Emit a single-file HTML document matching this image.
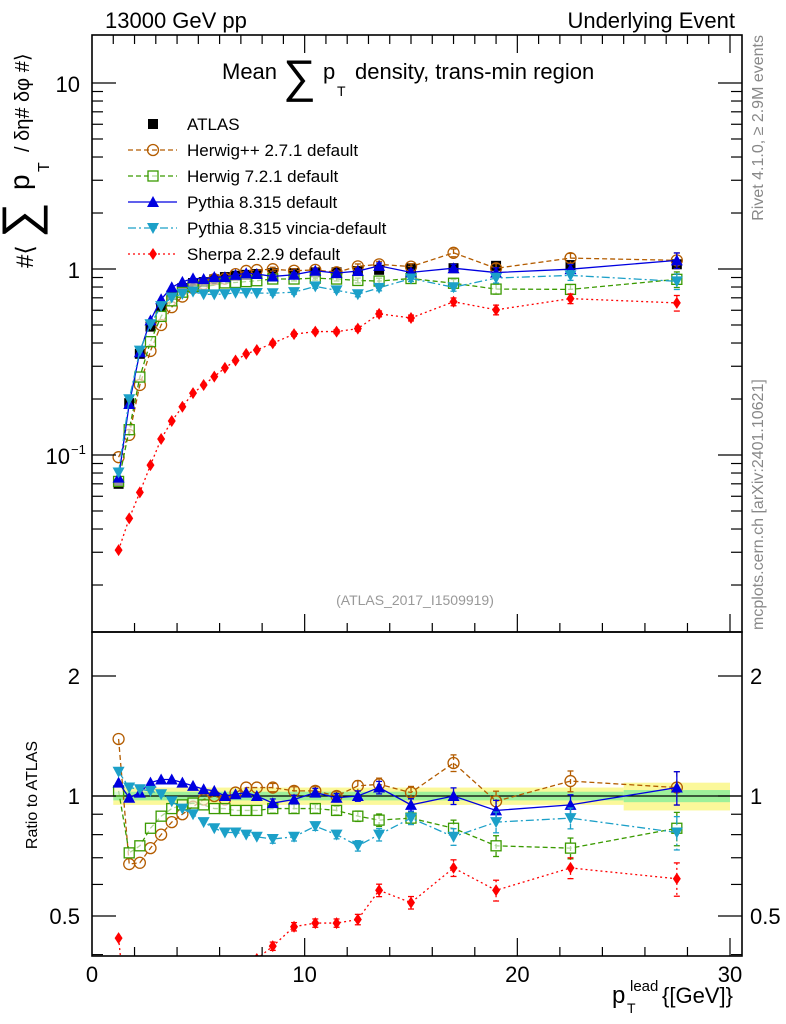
<!DOCTYPE html>
<html><head><meta charset="utf-8"><style>
html,body{margin:0;padding:0;background:#fff;width:786px;height:1024px;overflow:hidden;}
svg{display:block;font-family:"Liberation Sans",sans-serif;overflow:hidden;}
</style></head><body>
<svg id="c" width="786" height="1024" viewBox="0 0 786 1024"></svg>
<script>
const xs = [1.25,1.75,2.25,2.75,3.25,3.75,4.25,4.75,5.25,5.75,6.25,6.75,7.25,7.75,8.5,9.5,10.5,11.5,12.5,13.5,15,17,19,22.5,27.5];
const atlas = [0.070,0.19,0.35,0.49,0.625,0.725,0.79,0.84,0.85,0.88,0.905,0.92,0.93,0.94,0.95,0.95,0.96,0.96,0.975,0.99,1.01,1.01,1.04,1.05,1.06];
const rHerwigpp = [1.39,0.675,0.68,0.74,0.80,0.86,0.90,0.94,0.98,1.0,0.98,1.02,1.05,1.05,1.05,1.03,1.03,1.0,1.06,1.07,1.02,1.21,0.97,1.09,1.05];
const rHerwig7 = [1.03,0.72,0.75,0.83,0.89,0.93,0.95,0.96,0.95,0.93,0.93,0.92,0.92,0.92,0.93,0.93,0.93,0.92,0.89,0.87,0.88,0.83,0.75,0.74,0.83];
const rPythia = [1.08,0.99,1.02,1.08,1.10,1.10,1.08,1.06,1.04,1.03,1.0,1.01,1.02,1.0,0.96,0.98,1.02,0.99,1.0,1.05,0.95,1.0,0.92,0.95,1.05];
const rVincia = [1.15,1.05,1.04,1.03,1.01,0.97,0.93,0.90,0.86,0.83,0.81,0.81,0.80,0.79,0.78,0.79,0.84,0.80,0.75,0.80,0.88,0.79,0.86,0.88,0.81];
const rSherpa = [0.44,0.24,0.18,0.18,0.195,0.21,0.23,0.256,0.28,0.30,0.325,0.35,0.376,0.39,0.42,0.47,0.48,0.48,0.49,0.58,0.54,0.66,0.58,0.66,0.62];
const relErr = [0.01,0.01,0.01,0.01,0.01,0.01,0.01,0.01,0.01,0.01,0.01,0.01,0.01,0.01,0.02,0.02,0.02,0.02,0.025,0.03,0.03,0.04,0.05,0.05,0.08];
const bandEdges = [1,25,30];
const bandYellow = [0.05,0.08];
const bandGreen = [0.025,0.035];

const NS="http://www.w3.org/2000/svg";
const svg=document.getElementById('c');
const L=92, R=742, T1=35, B1=632, B2=956;
const X = v => L + v*(730-L)/30;
const Y1 = v => 269 - 186*Math.log10(v);
const Y2 = v => 796 - 120*Math.log2(v);
function el(tag, attrs, parent){const e=document.createElementNS(NS,tag);for(const k in attrs)e.setAttribute(k,attrs[k]);(parent||svg).appendChild(e);return e;}
function txt(s,x,y,size,attrs,parent){const t=el('text',Object.assign({x:x,y:y,'font-size':size,fill:'#000'},attrs||{}),parent);t.textContent=s;return t;}

const defs=el('defs',{});
const c1=el('clipPath',{id:'cp1'},defs);el('rect',{x:L,y:T1,width:R-L,height:B1-T1},c1);
const c2=el('clipPath',{id:'cp2'},defs);el('rect',{x:L,y:B1,width:R-L,height:B2-B1},c2);

const gBand=el('g',{'clip-path':'url(#cp2)'});


for(let i=0;i<bandYellow.length;i++){
  el('rect',{x:X(bandEdges[i]),y:Y2(1+bandYellow[i]),width:X(bandEdges[i+1])-X(bandEdges[i]),height:Y2(1-bandYellow[i])-Y2(1+bandYellow[i]),fill:'#fbf89a'},gBand);
  el('rect',{x:X(bandEdges[i]),y:Y2(1+bandGreen[i]),width:X(bandEdges[i+1])-X(bandEdges[i]),height:Y2(1-bandGreen[i])-Y2(1+bandGreen[i]),fill:'#9df09a'},gBand);
}
el('line',{x1:L,x2:R,y1:Y2(1),y2:Y2(1),stroke:'#000','stroke-width':1.3},gBand);

function marker(type,x,y,color,g){
  const s=5;
  if(type==='sq') return el('rect',{x:x-s,y:y-s,width:2*s,height:2*s,fill:'#000'},g);
  if(type==='osq') return el('rect',{x:x-s,y:y-s,width:2*s,height:2*s,fill:'#fff','fill-opacity':0.6,stroke:color,'stroke-width':1.3},g);
  if(type==='oc') return el('circle',{cx:x,cy:y,r:5.5,fill:'none',stroke:color,'stroke-width':1.3},g);
  if(type==='tu') return el('polygon',{points:`${x},${y-6} ${x+6},${y+5} ${x-6},${y+5}`,fill:color},g);
  if(type==='td') return el('polygon',{points:`${x},${y+6} ${x+6},${y-5} ${x-6},${y-5}`,fill:color},g);
  if(type==='di') return el('polygon',{points:`${x},${y-6} ${x+4},${y} ${x},${y+6} ${x-4},${y}`,fill:color},g);
}
const series=[
 {name:'herwigpp',r:rHerwigpp,color:'#b35c00',dash:'5,3',m:'oc',label:'Herwig++ 2.7.1 default'},
 {name:'herwig7',r:rHerwig7,color:'#3a9a00',dash:'5,3',m:'osq',label:'Herwig 7.2.1 default'},
 {name:'pythia',r:rPythia,color:'#0000e0',dash:'',m:'tu',label:'Pythia 8.315 default'},
 {name:'vincia',r:rVincia,color:'#1ca0c8',dash:'8,3,2,3',m:'td',label:'Pythia 8.315 vincia-default'},
 {name:'sherpa',r:rSherpa,color:'#ff0000',dash:'2,3',m:'di',label:'Sherpa 2.2.9 default'}
];
// clip segments to vertical range [top,bot]
function clippedSegments(pts,top,bot){
  const segs=[];let cur=[];
  for(let i=0;i<pts.length-1;i++){
    let [x1,y1]=pts[i],[x2,y2]=pts[i+1];
    if((y1>bot&&y2>bot)||(y1<top&&y2<top)){if(cur.length){segs.push(cur);cur=[];}continue;}
    const cl=(xa,ya,xb,yb)=>{let lim=ya>bot?bot:(ya<top?top:null);if(lim===null)return [xa,ya];return [xa+(xb-xa)*(lim-ya)/(yb-ya),lim];};
    const p1=cl(x1,y1,x2,y2),p2=cl(x2,y2,x1,y1);
    if(!cur.length)cur.push(p1);
    cur.push(p2);
    if(p2[1]!==y2){segs.push(cur);cur=[];}
  }
  if(cur.length)segs.push(cur);
  return segs;
}
function drawSeries(s,main){
  const g=el('g',{'clip-path':main?'url(#cp1)':'url(#cp2)'});
  
  
  const vals=xs.map((x,i)=>main?atlas[i]*s.r[i]:s.r[i]);
  const fy=main?Y1:Y2;
  const top=main?T1:B1, bot=main?B1:B2;
  const pts=xs.map((x,i)=>[X(x),fy(vals[i])]);
  clippedSegments(pts,top,bot).forEach(seg=>{
    el('polyline',{points:seg.map(p=>p[0]+','+p[1]).join(' '),fill:'none',stroke:s.color,'stroke-width':1.3,'stroke-dasharray':s.dash},g);
  });
  xs.forEach((x,i)=>{
    const e=relErr[i]*1.2, v=vals[i];
    if(fy(v)>bot+8||fy(v)<top-8)return;
    if(e>0.015){
      el('line',{x1:X(x),x2:X(x),y1:fy(v*(1+e)),y2:fy(v*(1-e)),stroke:s.color,'stroke-width':1.3,'stroke-dasharray':s.dash},g);
      el('line',{x1:X(x)-3,x2:X(x)+3,y1:fy(v*(1+e)),y2:fy(v*(1+e)),stroke:s.color,'stroke-width':1.3},g);
      el('line',{x1:X(x)-3,x2:X(x)+3,y1:fy(v*(1-e)),y2:fy(v*(1-e)),stroke:s.color,'stroke-width':1.3},g);
    }
    const m=marker(s.m,X(x),fy(v),s.color,g);
    
    
  });
}
const ga=el('g',{'clip-path':'url(#cp1)'});


xs.forEach((x,i)=>{const m=marker('sq',X(x),Y1(atlas[i]),'#000',ga);});
series.forEach(s=>{drawSeries(s,true);drawSeries(s,false);});

const fr=el('g',{fill:'none',stroke:'#000','stroke-width':1.6});


el('rect',{x:L,y:T1,width:R-L,height:B1-T1},fr);
el('rect',{x:L,y:B1,width:R-L,height:B2-B1},fr);
const tk=el('g',{stroke:'#000','stroke-width':1.2});


for(let d=-2;d<=1;d++)for(let k=1;k<=9;k++){const v=k*Math.pow(10,d),y=Y1(v);if(y<T1||y>B1)continue;const len=k===1?24:11;
  el('line',{x1:L,x2:L+len,y1:y,y2:y},tk);el('line',{x1:R,x2:R-len,y1:y,y2:y},tk);}
[0.4,0.5,0.6,0.7,0.8,0.9,1,2].forEach(v=>{const y=Y2(v);const len=(v===1||v===2||v===0.5)?24:11;
  el('line',{x1:L,x2:L+len,y1:y,y2:y},tk);el('line',{x1:R,x2:R-len,y1:y,y2:y},tk);});
for(let v=1;v<=30;v++){const x=X(v),maj=v%10===0;
  el('line',{x1:x,x2:x,y1:T1,y2:T1+(maj?18:9)},tk);
  if(v%2===0||maj){el('line',{x1:x,x2:x,y1:B2,y2:B2-(maj?18:9)},tk);el('line',{x1:x,x2:x,y1:B1,y2:B1-(maj?18:9)},tk);}
}
txt('10',80,92,22,{'text-anchor':'end'});
txt('1',80,278,22,{'text-anchor':'end'});
const t01=txt('10',70,464,22,{'text-anchor':'end'});
txt('−1',71,454,13,{});
[['2',2],['1',1],['0.5',0.5]].forEach(([s,v])=>{
  txt(s,80,Y2(v)+8,22,{'text-anchor':'end'});
  txt(s,750,Y2(v)+8,22,{});
});
[['0',0],['10',10],['20',20],['30',30]].forEach(([s,v])=>{txt(s,X(v),982,22,{'text-anchor':'middle'});});
const xt=txt('p',612,1003,24,{});
txt('lead',630,991,15,{});txt('T',627,1013,14,{});txt('{[GeV]}',662,1003,22,{});
txt('13000 GeV pp',105,28,22,{});
txt('Underlying Event',735,28,22,{'text-anchor':'end'});
const tg=el('g',{});
txt('Mean',222,79,22,{},tg);txt('∑',283,92,46,{},tg);txt('p',323,79,22,{},tg);txt('T',337,96,14,{},tg);txt('density, trans-min region',355,79,22,{},tg);
const yt=el('g',{transform:'translate(33,268) rotate(-90)'});
txt('#⟨',0,0,24,{},yt);txt('∑',30,4,50,{},yt);txt('p',78,-4,28,{},yt);txt('T',96,16,16,{},yt);txt('/ δη# δφ #⟩',116,-4,20,{},yt);
const rt=el('g',{transform:'translate(37,795) rotate(-90)'});
txt('Ratio to ATLAS',0,0,16,{'text-anchor':'middle'},rt);
const s1=el('g',{transform:'translate(763,35) rotate(-90)'});
txt('Rivet 4.1.0, ≥ 2.9M events',0,0,16,{'text-anchor':'end',fill:'#888'},s1);
const s2=el('g',{transform:'translate(763,630) rotate(-90)'});
txt('mcplots.cern.ch [arXiv:2401.10621]',0,0,16,{fill:'#888'},s2);
txt('(ATLAS_2017_I1509919)',415,605,14,{'text-anchor':'middle',fill:'#999'});
const lg=el('g',{});
const e0=el('g',{},lg);
marker('sq',153,124,'#000',e0);txt('ATLAS',187,130,17,{},e0);
series.forEach((s,i)=>{const y=150+26*i;const e=el('g',{},lg);
  
  
  el('line',{x1:128,x2:177,y1:y,y2:y,stroke:s.color,'stroke-width':1.3,'stroke-dasharray':s.dash},e);
  marker(s.m,153,y,s.color,e);txt(s.label,187,y+6,17,{},e);});
</script>
</body></html>
